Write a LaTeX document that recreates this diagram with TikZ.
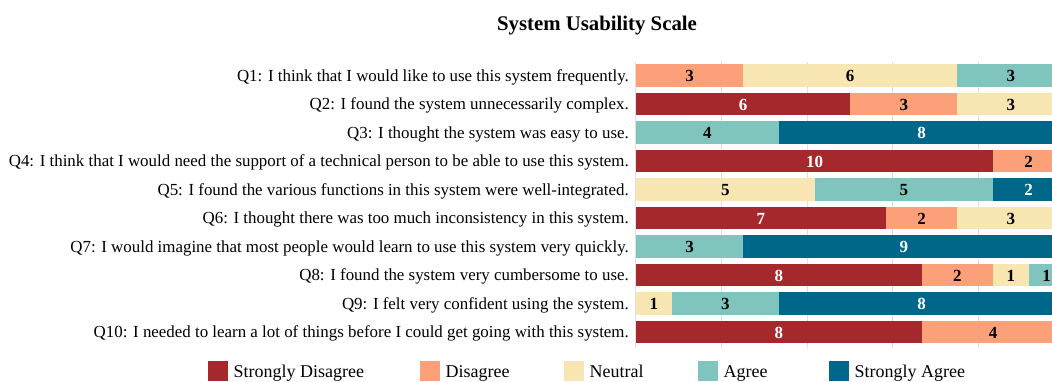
\documentclass[tikz,border=0pt]{standalone}
\usepackage{fontspec}
\setmainfont{Liberation Serif}
\definecolor{csd}{RGB}{165,40,44}
\definecolor{cd}{RGB}{252,160,122}
\definecolor{cn}{RGB}{247,229,178}
\definecolor{ca}{RGB}{128,196,190}
\definecolor{csa}{RGB}{0,103,138}
\tikzset{
  qlabel/.style={anchor=base east, inner sep=0pt, font=\fontsize{16.9}{18}\selectfont},
  numlabel/.style={inner sep=0pt, font=\fontsize{17}{18}\selectfont\bfseries},
  legbox/.style={inner sep=0pt, minimum size=20pt, anchor=west},
  legtext/.style={anchor=base west, inner sep=0pt, font=\fontsize{18}{19}\selectfont},
  gridl/.style={draw=black!12, line width=0.8pt}
}
% \barseg{row}{start}{count}{fill}{text}
\newcommand{\barseg}[5]{%
  \fill[#4] ({636+#2*35.7},{75.5+(#1-1)*28.5-11.2}) rectangle ++({#3*35.7},22.4);
  \node[numlabel,text=#5,anchor=base] (n#1s#2) at ({636+(#2+#3/2)*35.7},{75.5+(#1-1)*28.5+6}) {#3};%
}
\begin{document}
\begin{tikzpicture}[x=1pt,y=-1pt]
\useasboundingbox (0,0) rectangle (1052,381);
\clip (0,0) rectangle (1052,381);
\fill[white] (0,0) rectangle (1052,381);
% title
\node[anchor=base, inner sep=0pt, font=\fontsize{20.8}{22}\selectfont\bfseries] (title) at (597,30) {System Usability Scale};
% grid
\foreach \k in {0,...,5} {
  \draw[gridl] ({635.5+\k*85.7},62) -- ({635.5+\k*85.7},348);
}
% question labels
\foreach \i/\t in {
 1/{Q1: I think that I would like to use this system frequently.},
 2/{Q2: I found the system unnecessarily complex.},
 3/{Q3: I thought the system was easy to use.},
 4/{Q4: I think that I would need the support of a technical person to be able to use this system.},
 5/{Q5: I found the various functions in this system were well-integrated.},
 6/{Q6: I thought there was too much inconsistency in this system.},
 7/{Q7: I would imagine that most people would learn to use this system very quickly.},
 8/{Q8: I found the system very cumbersome to use.},
 9/{Q9: I felt very confident using the system.},
 10/{Q10: I needed to learn a lot of things before I could get going with this system.}} {
  \node[qlabel] (q\i) at (629,{75.5+(\i-1)*28.5+5.5}) {\t};
}
% bars
\barseg{1}{0}{3}{cd}{black}
\barseg{1}{3}{6}{cn}{black}
\barseg{1}{9}{3}{ca}{black}
\barseg{2}{0}{6}{csd}{white}
\barseg{2}{6}{3}{cd}{black}
\barseg{2}{9}{3}{cn}{black}
\barseg{3}{0}{4}{ca}{black}
\barseg{3}{4}{8}{csa}{white}
\barseg{4}{0}{10}{csd}{white}
\barseg{4}{10}{2}{cd}{black}
\barseg{5}{0}{5}{cn}{black}
\barseg{5}{5}{5}{ca}{black}
\barseg{5}{10}{2}{csa}{white}
\barseg{6}{0}{7}{csd}{white}
\barseg{6}{7}{2}{cd}{black}
\barseg{6}{9}{3}{cn}{black}
\barseg{7}{0}{3}{ca}{black}
\barseg{7}{3}{9}{csa}{white}
\barseg{8}{0}{8}{csd}{white}
\barseg{8}{8}{2}{cd}{black}
\barseg{8}{10}{1}{cn}{black}
\barseg{8}{11}{1}{ca}{black}
\barseg{9}{0}{1}{cn}{black}
\barseg{9}{1}{3}{ca}{black}
\barseg{9}{4}{8}{csa}{white}
\barseg{10}{0}{8}{csd}{white}
\barseg{10}{8}{4}{cd}{black}
% legend
\foreach \x/\c/\t [count=\j] in {208/csd/Strongly Disagree, 420/cd/Disagree, 564/cn/Neutral, 698/ca/Agree, 829/csa/Strongly Agree} {
  \node[legbox, fill=\c] (lb\j) at (\x,371) {};
  \node[legtext] (lt\j) at ([xshift=5pt,yshift=-6.5pt]lb\j.east) {\t};
}
\end{tikzpicture}
\end{document}
